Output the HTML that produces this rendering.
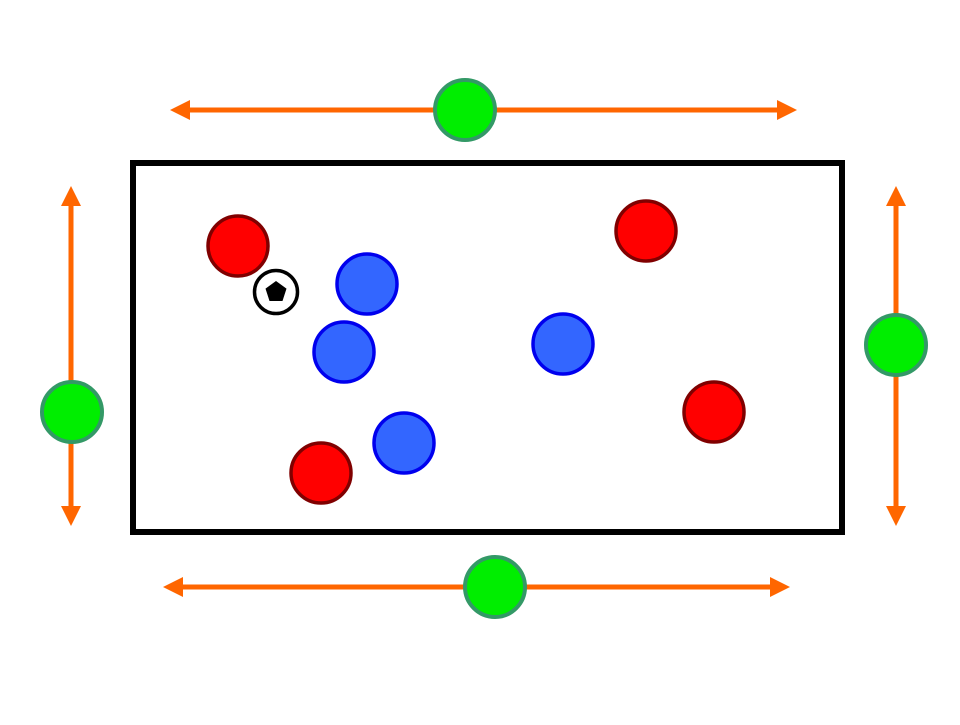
<!DOCTYPE html>
<html><head><meta charset="utf-8"><style>html,body{margin:0;padding:0;background:#fff}</style></head>
<body>
<svg width="960" height="720" viewBox="0 0 960 720" xmlns="http://www.w3.org/2000/svg">
<defs>
<marker id="ah" markerWidth="4" markerHeight="4" refX="0" refY="2" orient="auto" markerUnits="strokeWidth">
<path d="M0,0 L4,2 L0,4 Z" fill="#ff6600"/></marker>
</defs>
<rect x="133" y="163" width="709" height="369" fill="none" stroke="#000" stroke-width="6"/>
<g stroke="#ff6600" stroke-width="5" fill="none">
<line x1="465" y1="110" x2="777" y2="110" marker-end="url(#ah)"/>
<line x1="465" y1="110" x2="190" y2="110" marker-end="url(#ah)"/>
<line x1="495" y1="587" x2="770" y2="587" marker-end="url(#ah)"/>
<line x1="495" y1="587" x2="183" y2="587" marker-end="url(#ah)"/>
<line x1="71" y1="412" x2="71" y2="206" marker-end="url(#ah)"/>
<line x1="71" y1="412" x2="71" y2="506" marker-end="url(#ah)"/>
<line x1="896" y1="345" x2="896" y2="206" marker-end="url(#ah)"/>
<line x1="896" y1="345" x2="896" y2="506" marker-end="url(#ah)"/>
</g>
<g fill="#ff0000" stroke="#800000" stroke-width="3.5">
<circle cx="238" cy="246" r="30"/>
<circle cx="646" cy="231" r="30"/>
<circle cx="714" cy="412" r="30"/>
<circle cx="321" cy="473" r="30"/>
</g>
<g fill="#3366ff" stroke="#0000ee" stroke-width="3.5">
<circle cx="367" cy="284" r="30"/>
<circle cx="344" cy="352" r="30"/>
<circle cx="563" cy="344" r="30"/>
<circle cx="404" cy="443" r="30"/>
</g>
<g fill="#00ee00" stroke="#339966" stroke-width="4">
<circle cx="465" cy="110" r="30"/>
<circle cx="72" cy="412" r="30"/>
<circle cx="896" cy="345" r="30"/>
<circle cx="495" cy="587" r="30"/>
</g>
<circle cx="276" cy="292" r="21.5" fill="#fff" stroke="#000" stroke-width="3.5"/>
<polygon points="276,281 286.5,288.6 282.5,301 269.5,301 265.5,288.6" fill="#000"/>
</svg>
</body></html>
